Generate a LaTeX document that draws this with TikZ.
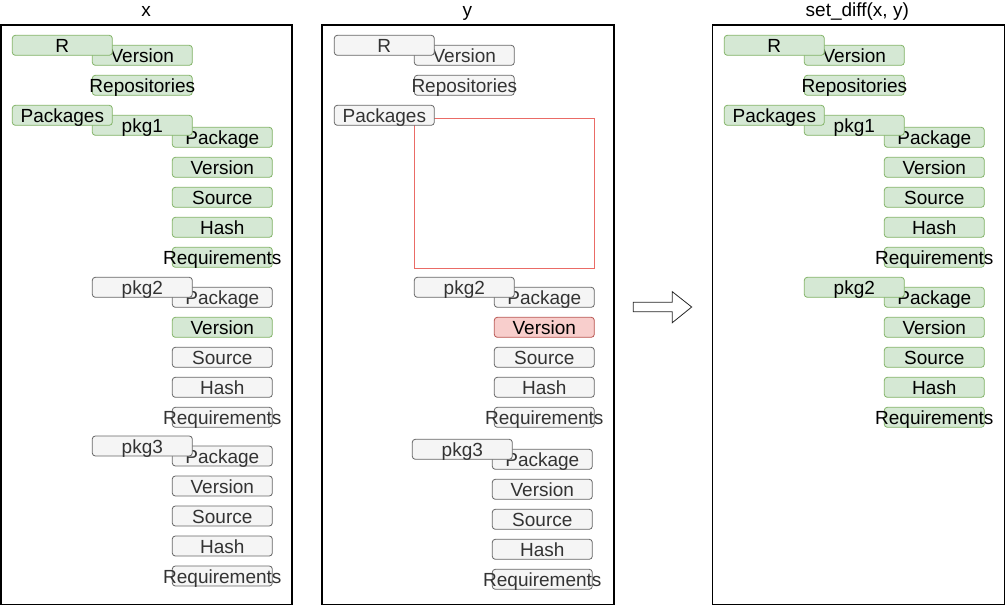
\documentclass[tikz,border=0pt]{standalone}
\usepackage{fontspec}
\setmainfont{Liberation Sans}
\definecolor{gfill}{HTML}{D5E8D4}
\definecolor{gdraw}{HTML}{82B366}
\definecolor{wfill}{HTML}{F5F5F5}
\definecolor{wdraw}{HTML}{666666}
\definecolor{wtext}{HTML}{333333}
\definecolor{rfill}{HTML}{F8CECC}
\definecolor{rdraw}{HTML}{B85450}
\definecolor{rline}{HTML}{EA6B66}
\tikzset{
  boxbase/.style={rectangle, rounded corners=3pt, line width=0.8pt, minimum width=100pt, minimum height=20pt, inner sep=0pt, text height=16pt, text depth=2pt, font=\fontsize{19}{20}\selectfont},
  gbox/.style={boxbase, fill=gfill, draw=gdraw, text=black},
  wbox/.style={boxbase, fill=wfill, draw=wdraw, text=wtext},
  rbox/.style={boxbase, fill=rfill, draw=rdraw, text=black},
  frame/.style={draw=black, line width=1.3pt, fill=none},
  ttl/.style={font=\fontsize{19}{20}\selectfont, text=black, anchor=base, inner sep=0pt},
  hole/.style={draw=rline, line width=0.9pt, fill=none, inner sep=0pt, rectangle},
  bigarrow/.style={draw=black!85, line width=0.8pt, fill=white}
}
\newcommand{\ov}[1]{\makebox[0pt][c]{#1}}
\begin{document}
\begin{tikzpicture}[x=1pt,y=-1pt]
\useasboundingbox (0,0) rectangle (1005,607);
% titles
\node[ttl] (tx) at (146,17) {x};
\node[ttl] (ty) at (467.3,17) {y};
\node[ttl] (tz) at (857.3,17) {set\_diff(x, y)};
% frames
\node[frame, minimum width=291pt, minimum height=579.5pt, inner sep=0pt] (fx) at (146.5,314.75) {};
\node[frame, minimum width=292pt, minimum height=579.5pt, inner sep=0pt] (fy) at (468,314.75) {};
\node[frame, minimum width=292pt, minimum height=579.5pt, inner sep=0pt] (fz) at (858.3,314.75) {};

% ===== left panel x =====
\node[gbox] (xv) at (142.3,55.3) {Version};
\node[gbox] (xr) at (62.3,45.3) {R};
\node[gbox] (xrep) at (142.3,85.3) {\ov{Repositories}};
\node[gbox] (x1p) at (222.3,137.3) {Package};
\node[gbox] (x1v) at (222.3,167.3) {Version};
\node[gbox] (x1s) at (222.3,197.3) {Source};
\node[gbox] (x1h) at (222.3,227.3) {Hash};
\node[gbox] (x1q) at (222.3,257.3) {\ov{Requirements}};
\node[gbox] (x1) at (142.3,125.3) {pkg1};
\node[gbox] (xpk) at (62.3,115.3) {Packages};
\node[wbox] (x2p) at (222.3,297.3) {Package};
\node[gbox] (x2v) at (222.3,327.3) {Version};
\node[wbox] (x2s) at (222.3,357.3) {Source};
\node[wbox] (x2h) at (222.3,387.3) {Hash};
\node[wbox] (x2q) at (222.3,417.3) {\ov{Requirements}};
\node[wbox] (x2) at (142.3,287.3) {pkg2};
\node[wbox] (x3p) at (222.3,456) {Package};
\node[wbox] (x3v) at (222.3,486) {Version};
\node[wbox] (x3s) at (222.3,516) {Source};
\node[wbox] (x3h) at (222.3,546) {Hash};
\node[wbox] (x3q) at (222.3,576) {\ov{Requirements}};
\node[wbox] (x3) at (142.3,446) {pkg3};

% ===== middle panel y =====
\node[wbox] (yv) at (464.3,55.3) {Version};
\node[wbox] (yr) at (384.3,45.3) {R};
\node[wbox] (yrep) at (464.3,85.3) {\ov{Repositories}};
\node[hole, minimum width=180pt, minimum height=150pt] (yhole) at (504.3,193.3) {};
\node[wbox] (ypk) at (384.3,115.3) {Packages};
\node[wbox] (y2p) at (544.3,297.3) {Package};
\node[rbox] (y2v) at (544.3,327.3) {Version};
\node[wbox] (y2s) at (544.3,357.3) {Source};
\node[wbox] (y2h) at (544.3,387.3) {Hash};
\node[wbox] (y2q) at (544.3,417.3) {\ov{Requirements}};
\node[wbox] (y2) at (464.3,287.3) {pkg2};
\node[wbox] (y3p) at (542.3,459.3) {Package};
\node[wbox] (y3v) at (542.3,489.3) {Version};
\node[wbox] (y3s) at (542.3,519.3) {Source};
\node[wbox] (y3h) at (542.3,549.3) {Hash};
\node[wbox] (y3q) at (542.3,579.3) {\ov{Requirements}};
\node[wbox] (y3) at (462.3,449.3) {pkg3};

% ===== arrow =====
\draw[bigarrow] (633.3,302.3) -- (672.3,302.3) -- (672.3,291.7) -- (691.7,307) -- (672.3,322.7) -- (672.3,311.7) -- (633.3,311.7) -- cycle;

% ===== right panel set_diff =====
\node[gbox] (zv) at (854.3,55.3) {Version};
\node[gbox] (zr) at (774.3,45.3) {R};
\node[gbox] (zrep) at (854.3,85.3) {\ov{Repositories}};
\node[gbox] (z1p) at (934.3,137.3) {Package};
\node[gbox] (z1v) at (934.3,167.3) {Version};
\node[gbox] (z1s) at (934.3,197.3) {Source};
\node[gbox] (z1h) at (934.3,227.3) {Hash};
\node[gbox] (z1q) at (934.3,257.3) {\ov{Requirements}};
\node[gbox] (z1) at (854.3,125.3) {pkg1};
\node[gbox] (zpk) at (774.3,115.3) {Packages};
\node[gbox] (z2p) at (934.3,297.3) {Package};
\node[gbox] (z2v) at (934.3,327.3) {Version};
\node[gbox] (z2s) at (934.3,357.3) {Source};
\node[gbox] (z2h) at (934.3,387.3) {Hash};
\node[gbox] (z2q) at (934.3,417.3) {\ov{Requirements}};
\node[gbox] (z2) at (854.3,287.3) {pkg2};
\end{tikzpicture}
\end{document}
